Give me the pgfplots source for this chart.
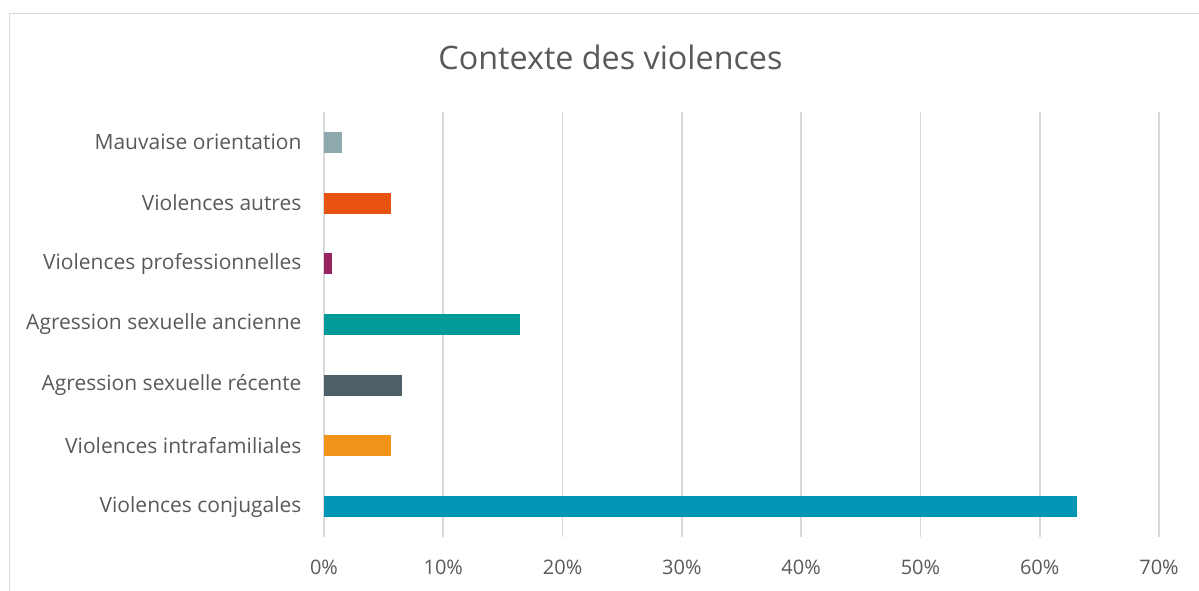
\documentclass[border=0pt]{standalone}
\usepackage{fontspec}
\setmainfont{Open Sans}
\usepackage{pgfplots}
\pgfplotsset{compat=1.18}
\definecolor{textgray}{HTML}{595959}
\definecolor{gridgray}{HTML}{D9D9D9}
\definecolor{cA}{HTML}{8EA9AD}
\definecolor{cB}{HTML}{E85311}
\definecolor{cC}{HTML}{952460}
\definecolor{cD}{HTML}{009A98}
\definecolor{cE}{HTML}{4F5F68}
\definecolor{cF}{HTML}{F29419}
\definecolor{cG}{HTML}{0096B4}
\begin{document}
\begin{tikzpicture}
\useasboundingbox (0,0) rectangle (1199pt,-590pt);
\draw[color=gridgray, line width=1.5pt] (9.5pt,-13.5pt) rectangle (1215pt,-610pt);
\node[text=textgray, font=\fontsize{32.3}{38}\selectfont] at (610.5pt,-57pt) {Contexte des violences};
\begin{axis}[
 at={(324pt,-537pt)}, anchor=south west,
 scale only axis, width=835pt, height=425pt,
 xbar, bar width=21pt, bar shift=0pt,
 xmin=0, xmax=70, ymin=-0.5, ymax=6.5,
 ytick={0,...,6},
 yticklabels={Violences conjugales,Violences intrafamiliales,Agression sexuelle récente,Agression sexuelle ancienne,Violences professionnelles,Violences autres,Mauvaise orientation},
 xtick={0,10,...,70},
 xticklabel={\pgfmathprintnumber{\tick}\%},
 xmajorgrids, grid style={draw=gridgray, line width=1.8pt},
 axis line style={draw=none}, major tick length=0pt,
 yticklabel style={font=\fontsize{21}{24}\selectfont, text=textgray, xshift=-19pt},
 xticklabel style={font=\fontsize{20}{24}\selectfont, text=textgray, yshift=-19pt},
 /pgf/number format/assume math mode=true,
]
\addplot[fill=cG, draw=none] coordinates {(63.1,0)};
\addplot[fill=cF, draw=none] coordinates {(5.6,1)};
\addplot[fill=cE, draw=none] coordinates {(6.5,2)};
\addplot[fill=cD, draw=none] coordinates {(16.4,3)};
\addplot[fill=cC, draw=none] coordinates {(0.7,4)};
\addplot[fill=cB, draw=none] coordinates {(5.6,5)};
\addplot[fill=cA, draw=none] coordinates {(1.55,6)};
\end{axis}
\end{tikzpicture}
\end{document}
